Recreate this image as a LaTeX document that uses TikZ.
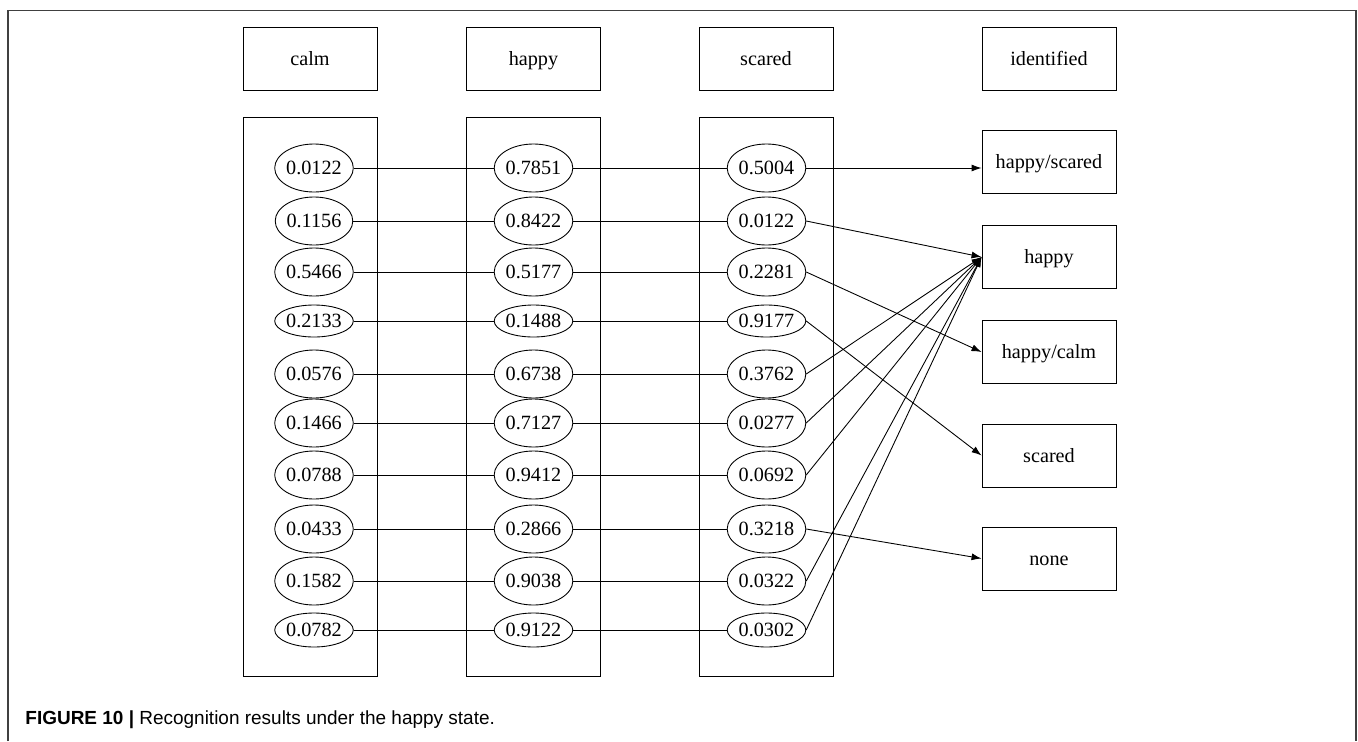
\documentclass[tikz,border=0pt]{standalone}
\usepackage{fontspec}
\setmainfont{Liberation Serif}
\setsansfont{Liberation Sans}
\usetikzlibrary{shapes.geometric,arrows.meta}
\tikzset{
  lbl/.style={draw, rectangle, minimum width=26.8mm, minimum height=12.6mm,
    inner sep=0pt, text height=9pt, text depth=1.6pt,
    font=\fontsize{11.5}{13}\selectfont},
  val/.style={draw, ellipse, minimum width=14.8mm, inner sep=0pt,
    text height=9pt, text depth=1.6pt, font=\fontsize{11.5}{13}\selectfont},
  col/.style={draw, rectangle, minimum width=26.8mm, minimum height=111.8mm}
}

\begin{document}
\begin{tikzpicture}[x=0.2mm,y=-0.2mm,>={Latex[length=2mm,width=1.4mm]},line width=0.5pt]
    \useasboundingbox (0,0) rectangle (1358,741);
    \draw[black!75,line width=0.8pt] (8,741) -- (8,10.5) -- (1356,10.5) -- (1356,741);
    \node[lbl] (calm)  at (310,58.5)  {calm};
    \node[lbl] (happy) at (533.5,58.5) {happy};
    \node[lbl] (scared) at (766,58.5) {scared};
    \node[lbl] (ident) at (1049,58.5) {identified};
    \node[col] (colc) at (310,396.5) {};
    \node[col] (colh) at (533.5,396.5) {};
    \node[col] (cols) at (766.5,396.5) {};
    \foreach \i/\y/\hh/\a/\b/\c in {1/168/9.6/0.0122/0.7851/0.5004,
        2/221/9.6/0.1156/0.8422/0.0122, 3/272/9.6/0.5466/0.5177/0.2281,
        4/321/6.4/0.2133/0.1488/0.9177, 5/374/9.6/0.0576/0.6738/0.3762,
        6/423/9.6/0.1466/0.7127/0.0277, 7/475/9.6/0.0788/0.9412/0.0692,
        8/529/9.6/0.0433/0.2866/0.3218, 9/581/9.6/0.1582/0.9038/0.0322,
        10/630/6.8/0.0782/0.9122/0.0302} {
      \node[val,minimum height=\hh mm] (c\i) at (314,\y) {\a};
      \node[val,minimum height=\hh mm] (h\i) at (533.5,\y) {\b};
      \node[val,minimum height=\hh mm] (s\i) at (766.5,\y) {\c};
      \draw (c\i) -- (h\i) -- (s\i);
    }
    \node[lbl] (hs) at (1049,162)   {happy/scared};
    \node[lbl] (hp) at (1049,257)   {happy};
    \node[lbl] (hc) at (1049,352)   {happy/calm};
    \node[lbl] (sc) at (1049,455.5) {scared};
    \node[lbl] (nn) at (1049,558.5) {none};
    \draw[->] (s1) -- (s1 -| hs.west);
    \foreach \i/\t in {2/hp,3/hc,4/sc,5/hp,6/hp,7/hp,8/nn,9/hp,10/hp}
      \draw[->] (s\i.east) -- (\t.west);
    \node[anchor=base west,inner sep=0pt,font=\sffamily\fontsize{10.8}{13}\selectfont]
      (cap) at (25,724) {\textbf{FIGURE 10 |} Recognition results under the happy state.};
\end{tikzpicture}
\end{document}
